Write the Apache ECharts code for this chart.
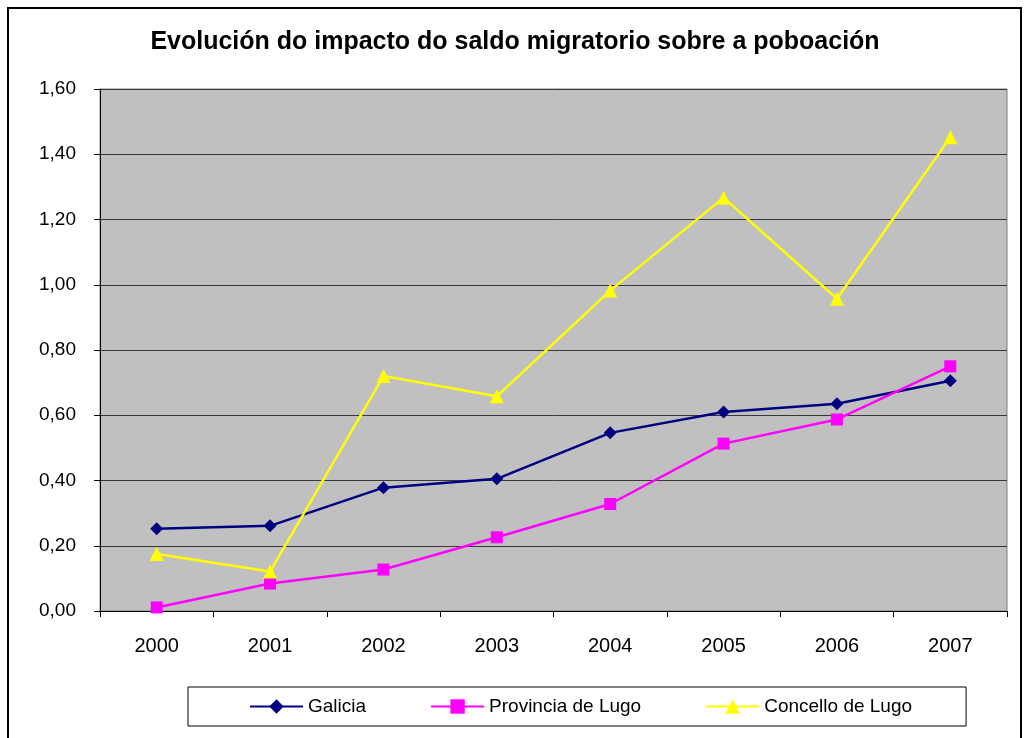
<!DOCTYPE html>
<html>
<head>
<meta charset="utf-8">
<script src="https://cdn.jsdelivr.net/npm/echarts@6/dist/echarts.min.js"></script>
<style>html,body{margin:0;padding:0;background:#fff;}#c{width:1025px;height:738px;}</style>
</head>
<body>
<div id="c"></div>
<script>
var years = ['2000','2001','2002','2003','2004','2005','2006','2007'];
var galicia = [0.252, 0.261, 0.378, 0.405, 0.546, 0.610, 0.635, 0.706];
var provincia = [0.011, 0.084, 0.127, 0.226, 0.328, 0.513, 0.587, 0.750];
var concello = [0.175, 0.121, 0.720, 0.658, 0.982, 1.267, 0.957, 1.452];
var yTicks = [0, 0.2, 0.4, 0.6, 0.8, 1.0, 1.2, 1.4, 1.6];

var font = '"Liberation Sans", Arial, sans-serif';
var chart = echarts.init(document.getElementById('c'), null, {renderer: 'canvas'});
chart.setOption({
  animation: false,
  backgroundColor: '#fff',
  title: {
    text: 'Evolución do impacto do saldo migratorio sobre a poboación',
    left: 510, top: 25, textAlign: 'center',
    textStyle: {fontFamily: font, fontSize: 25, fontWeight: 'bold', color: '#000'}
  },
  graphic: [{
    type: 'rect', shape: {x: 8, y: 8, width: 1013, height: 740},
    style: {fill: 'none', stroke: '#000', lineWidth: 2}, z: -1
  }],
  grid: {
    left: 100, right: 18, top: 89, bottom: 127,
    show: true, backgroundColor: '#C0C0C0', borderColor: '#808080', borderWidth: 1
  },
  legend: {
    left: 188, top: 687,
    padding: [10, 54, 10, 61],
    itemGap: 64, itemWidth: 53, itemHeight: 18,
    borderColor: '#000', borderWidth: 1, backgroundColor: '#fff',
    textStyle: {fontFamily: font, fontSize: 19, color: '#000'},
    data: ['Galicia', 'Provincia de Lugo', 'Concello de Lugo']
  },
  xAxis: {
    type: 'category', data: years, boundaryGap: true,
    axisLine: {lineStyle: {color: '#000', width: 1}},
    axisTick: {show: true, length: 6, inside: false, alignWithLabel: false, lineStyle: {color: '#000'}},
    axisLabel: {fontFamily: font, fontSize: 20, color: '#000', margin: 25}
  },
  yAxis: {
    type: 'value', min: yTicks[0], max: yTicks[yTicks.length - 1], interval: 0.2,
    axisLine: {show: true, lineStyle: {color: '#000', width: 1}},
    axisTick: {show: true, length: 6, lineStyle: {color: '#000'}},
    axisLabel: {fontFamily: font, fontSize: 19, color: '#000', margin: 24,
      formatter: function (v) { return v.toFixed(2).replace('.', ','); }},
    splitLine: {show: true, lineStyle: {color: '#383838', width: 1}}
  },
  series: [
    {name: 'Galicia', type: 'line', data: galicia, symbol: 'diamond', symbolSize: 13,
      lineStyle: {color: '#000080', width: 2.5}, itemStyle: {color: '#000080'}},
    {name: 'Provincia de Lugo', type: 'line', data: provincia, symbol: 'rect', symbolSize: 12,
      lineStyle: {color: '#FF00FF', width: 2.5}, itemStyle: {color: '#FF00FF'}},
    {name: 'Concello de Lugo', type: 'line', data: concello, symbol: 'triangle', symbolSize: 14,
      lineStyle: {color: '#FFFF00', width: 2.5}, itemStyle: {color: '#FFFF00'}}
  ]
});
</script>
</body>
</html>
